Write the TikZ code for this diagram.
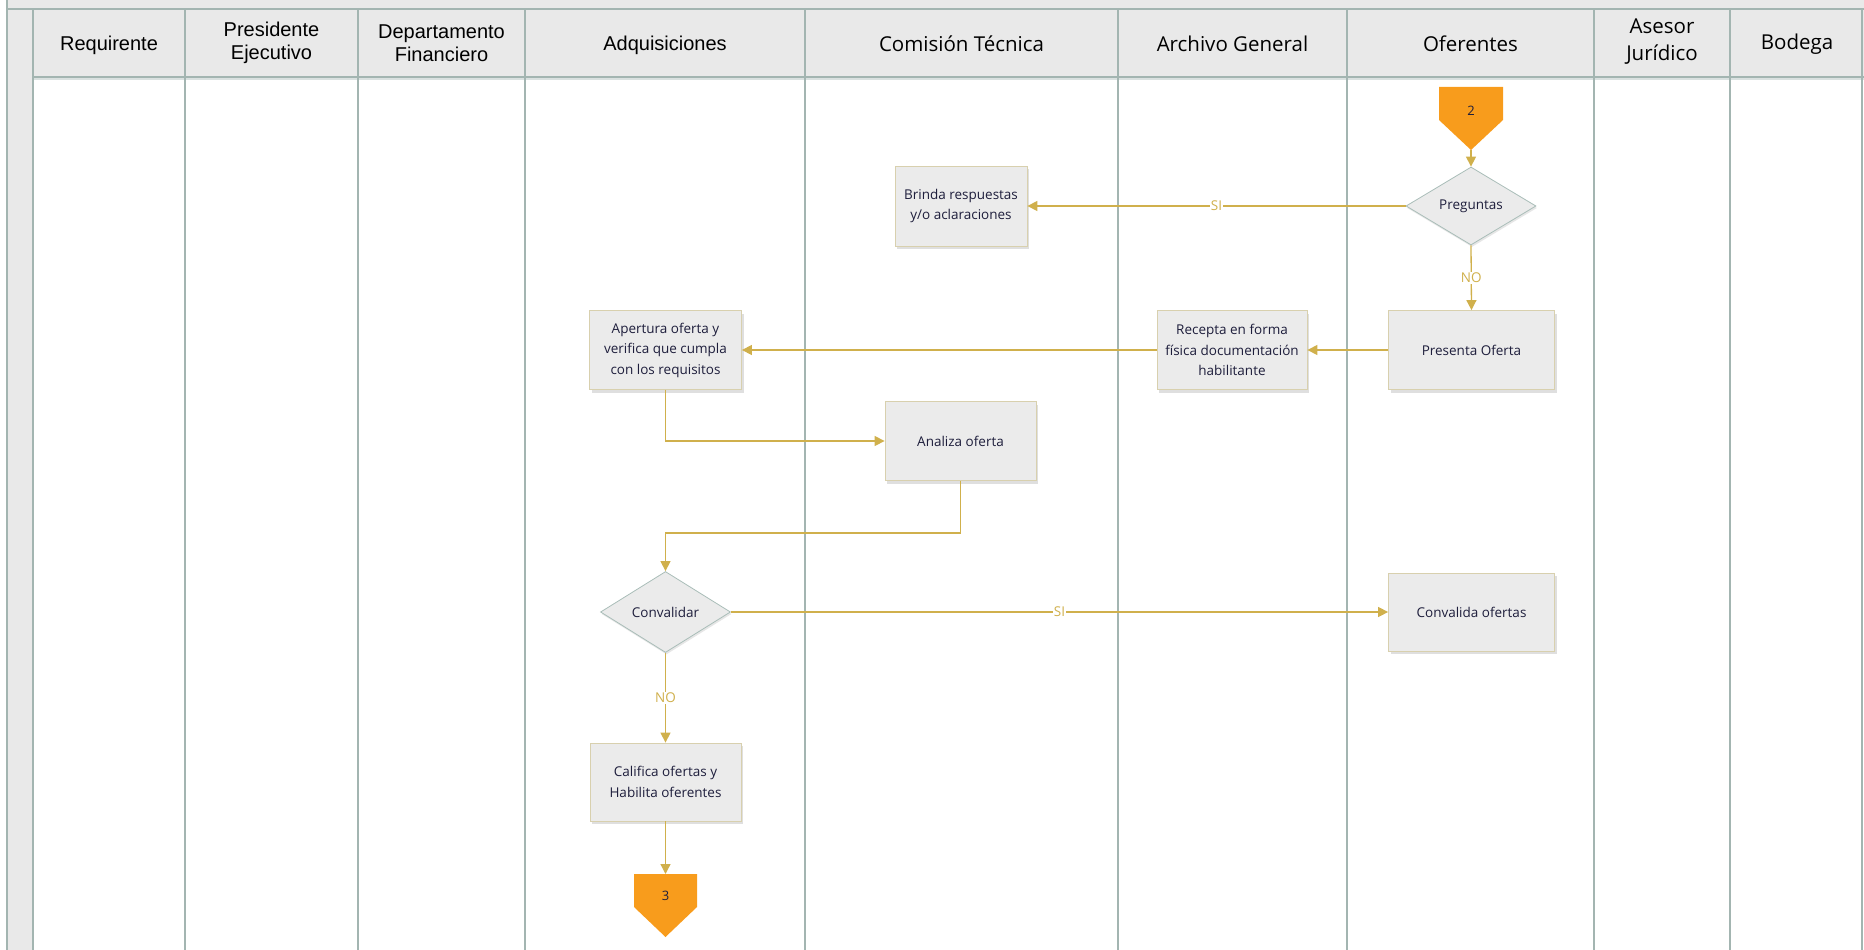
\documentclass[tikz,border=0pt]{standalone}
\usepackage{fontspec}
\setmainfont{Open Sans}
\newfontfamily\arialf{Liberation Sans}
\usetikzlibrary{shapes.geometric,arrows.meta,shadows}
\definecolor{lanec}{HTML}{A3B5B1}
\definecolor{headf}{HTML}{E9E9E9}
\definecolor{boxf}{HTML}{EBEBEB}
\definecolor{boxb}{HTML}{D8D0AE}
\definecolor{diab}{HTML}{A9BDB8}
\definecolor{flow}{HTML}{D0B04C}
\definecolor{offp}{HTML}{F89C1C}
\definecolor{txt}{HTML}{1E1E3C}
\begin{document}
\begin{tikzpicture}[x=1pt,y=-1pt,
  lane/.style={draw=lanec,line width=1.1pt},
  hdr/.style={align=center,text=black,font=\fontsize{20.5}{27}\selectfont},
  hdra/.style={hdr,font=\arialf\fontsize{20}{23}\selectfont},
  proc/.style={rectangle,draw=boxb,fill=boxf,line width=0.8pt,text=txt,align=center,
    font=\fontsize{13.5}{20.5}\selectfont,inner sep=2pt,
    drop shadow={opacity=0.25,shadow xshift=2pt,shadow yshift=-3pt}},
  dec/.style={diamond,draw=diab,fill=boxf,line width=0.8pt,text=txt,align=center,
    font=\fontsize{13.5}{20}\selectfont,inner sep=0pt,
    drop shadow={opacity=0.2,shadow xshift=1pt,shadow yshift=-2pt}},
  flowline/.style={draw=flow,line width=1.3pt,-{Triangle[length=10pt,width=10pt]}},
  lbl/.style={fill=white,text=flow,inner sep=1pt,font=\fontsize{13.5}{15}\selectfont},
  offpage/.style={fill=offp,draw=none},
  offtxt/.style={text=txt,font=\fontsize{13}{15}\selectfont,inner sep=0pt}
]
\useasboundingbox (0,0) rectangle (1864,950);
% backgrounds
\fill[headf] (7,0) rectangle (1864,9);
\fill[headf] (7,0) rectangle (33,950);
\fill[headf] (33,9) rectangle (1864,77);
% horizontal lines
\draw[lane] (7,9) -- (1864,9);
\draw[lane] (33,77) -- (1864,77);
\draw[lanec!40,line width=2pt] (33,79.5) -- (1864,79.5);
% vertical lines
\foreach \xx in {7,33,185,358,525,805,1118,1347,1594,1730,1862}{
  \draw[lane] (\xx,9) -- (\xx,950);
}
\draw[lane] (7,0) -- (7,9);
% headers
\node[hdra] (h1) at (109,45) {Requirente};
\node[hdra] (h2) at (271.5,43) {Presidente\\Ejecutivo};
\node[hdra] (h3) at (441.5,43) {Departamento\\Financiero};
\node[hdra] (h4) at (665,45) {Adquisiciones};
\node[hdr] (h5) at (961.5,44) {Comisión Técnica};
\node[hdr] (h6) at (1232.5,44) {Archivo General};
\node[hdr] (h7) at (1470.5,44) {Oferentes};
\node[hdr] (h8) at (1662,42) {Asesor\\Jurídico};
\node[hdr] (h9) at (1797,44) {Bodega};
% off-page connector 2
\fill[offpage] (1439,87) -- (1503,87) -- (1503,120) -- (1471,150) -- (1439,120) -- cycle;
\node[offtxt] (c2) at (1471,111) {2};
\coordinate (c2tip) at (1471,150);
% off-page connector 3
\fill[offpage] (634,874) -- (697,874) -- (697,907) -- (665.5,937) -- (634,907) -- cycle;
\node[offtxt] (c3) at (665.5,896) {3};
\coordinate (c3top) at (665.5,874);
% nodes
\node[dec,minimum width=130pt,minimum height=78pt] (preg) at (1471,206) {Preguntas};
\node[proc,minimum width=132pt,minimum height=80pt] (brinda) at (961,206) {Brinda respuestas\\y/o aclaraciones};
\node[proc,minimum width=166pt,minimum height=79pt] (presenta) at (1471.5,350) {Presenta Oferta};
\node[proc,minimum width=150pt,minimum height=79pt] (recepta) at (1232,350) {Recepta en forma\\física documentación\\habilitante};
\node[proc,minimum width=152pt,minimum height=79pt] (apertura) at (665.5,350) {Apertura oferta y\\verifica que cumpla\\con los requisitos};
\node[proc,minimum width=151pt,minimum height=79pt] (analiza) at (960.5,441) {Analiza oferta};
\node[dec,minimum width=130pt,minimum height=81pt] (convalidar) at (665.5,612) {Convalidar};
\node[proc,minimum width=166pt,minimum height=78pt] (convalida) at (1471.5,612) {Convalida ofertas};
\node[proc,minimum width=151pt,minimum height=78pt] (califica) at (665.5,782) {Califica ofertas y\\Habilita oferentes};
\coordinate (bend) at (800,533);
% connectors
\draw[flowline] (c2tip) -- (preg.north);
\draw[flowline] (preg.west) -- node[lbl,pos=0.5]{SI} (brinda.east);
\draw[flowline] (preg.south) -- node[lbl,pos=0.5]{NO} (presenta.north);
\draw[flowline] (presenta.west) -- (recepta.east);
\draw[flowline] (recepta.west) -- (apertura.east);
\draw[flowline] (apertura.south) |- (analiza.west);
\draw[flowline] (analiza.south) |- (bend) -| (convalidar.north);
\draw[flowline] (convalidar.east) -- node[lbl,pos=0.5]{SI} (convalida.west);
\draw[flowline] (convalidar.south) -- node[lbl,pos=0.5]{NO} (califica.north);
\draw[flowline] (califica.south) -- (c3top);
\end{tikzpicture}
\end{document}
